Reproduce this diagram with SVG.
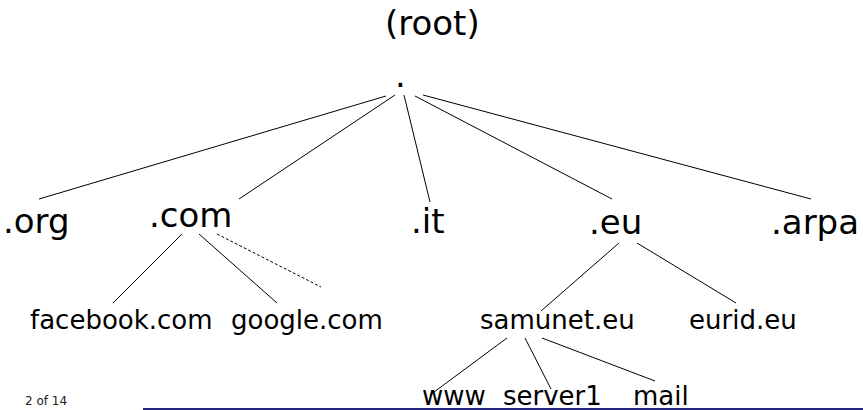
<svg xmlns="http://www.w3.org/2000/svg" width="863" height="410" viewBox="0 0 863 410">
  <style>
    text { font-family: "DejaVu Sans", "Liberation Sans", sans-serif; fill: #000; }
    .big { font-size: 34px; }
    .mid { font-size: 26px; }
    .pg { font-size: 12px; fill: #222; }
    .edge { stroke: #000; stroke-width: 1; fill: none; }
    .dash { stroke: #000; stroke-width: 1; stroke-dasharray: 3 2; fill: none; }
  </style>
  <rect width="863" height="410" fill="#fff"/>

  <!-- tree edges -->
  <g id="connectors">
    <line class="edge" x1="386" y1="96" x2="39" y2="199"/>
    <line class="edge" x1="395" y1="95" x2="239" y2="199"/>
    <line class="edge" x1="404" y1="95" x2="430" y2="202"/>
    <line class="edge" x1="415" y1="96" x2="612" y2="199"/>
    <line class="edge" x1="423" y1="95" x2="811" y2="199"/>
    <line class="edge" x1="182" y1="234" x2="113" y2="303"/>
    <line class="edge" x1="199" y1="234" x2="277" y2="303"/>
    <line class="dash" x1="217" y1="234" x2="321" y2="287"/>
    <line class="edge" x1="619" y1="243" x2="541" y2="311"/>
    <line class="edge" x1="637" y1="243" x2="736" y2="303"/>
    <line class="edge" x1="507" y1="338" x2="430" y2="395"/>
    <line class="edge" x1="525" y1="338" x2="551" y2="389"/>
    <line class="edge" x1="542" y1="338" x2="655" y2="381"/>
  </g>

  <g id="root-label"><text class="big" x="385" y="35">(root)</text></g>
  <g id="root"><text class="big" x="395" y="87">.</text></g>

  <g id="org"><text class="big" x="3" y="233">.org</text></g>
  <g id="com"><text class="big" x="149" y="227">.com</text></g>
  <g id="it"><text class="big" x="411" y="233">.it</text></g>
  <g id="eu"><text class="big" x="589" y="234">.eu</text></g>
  <g id="arpa"><text class="big" x="771" y="234">.arpa</text></g>

  <g id="facebook"><text class="mid" x="30" y="329">facebook.com</text></g>
  <g id="google"><text class="mid" x="231" y="329">google.com</text></g>
  <g id="samunet"><text class="mid" x="480" y="329">samunet.eu</text></g>
  <g id="eurid"><text class="mid" x="689" y="329">eurid.eu</text></g>

  <g id="www"><text class="mid" x="422" y="405">www</text></g>
  <g id="server1"><text class="mid" x="503" y="405">server1</text></g>
  <g id="mail"><text class="mid" x="633" y="405">mail</text></g>

  <!-- page footer -->
  <text class="pg" x="25" y="405">2 of 14</text>
  <rect x="143" y="408" width="720" height="2" fill="#262680"/>
</svg>
